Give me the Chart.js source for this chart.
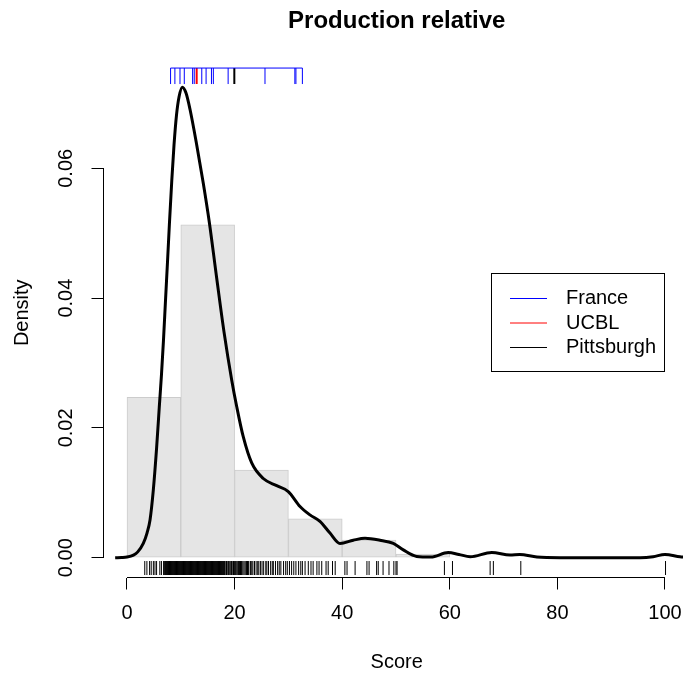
<!DOCTYPE html>
<html>
<head>
<meta charset="utf-8">
<title>Production relative</title>
<script src="https://cdn.jsdelivr.net/npm/chart.js@4.4.1/dist/chart.umd.min.js"></script>
<style>
  html, body { margin: 0; padding: 0; overflow: hidden; background: #ffffff; }
  canvas { display: block; }
</style>
</head>
<body>
<canvas id="chart" width="683" height="674"></canvas>
<script>
// ---- Histogram of scores (bins of width 10, density scale) ----
const binStarts = [0, 10, 20, 30, 40, 50];
const binDensity = [0.0247, 0.0513, 0.0135, 0.0060, 0.0027, 0.00057];
const BIN_WIDTH = 10;

// ---- Kernel density estimate of the score ----
const densityX = [-2.2, -1.0, 0.0, 1.2, 2.0, 3.03, 3.72, 4.28, 4.89, 5.52, 6.0, 6.41, 6.78, 7.16,
  7.53, 7.9, 8.33, 8.74, 9.2, 9.67, 10.28, 10.97, 11.71, 12.96, 14.18, 15.3, 16.67, 18.03, 19.46,
  20.39, 21.62, 23.18, 25.33, 27.83, 29.98, 32.16, 34.01, 35.87, 37.73, 39.59, 42.06, 44.24,
  47.03, 49.5, 51.36, 53.85, 56.5, 59.7, 61.7, 63.8, 67.8, 71.2, 73.0, 76.2, 80.5, 95.4, 97.8,
  100.0, 102.8, 104.6];
const densityY = [0.0, 0.00003, 0.0001, 0.0004, 0.0009, 0.0022, 0.0038, 0.0058, 0.0104, 0.0171,
  0.0232, 0.0282, 0.0335, 0.0397, 0.0456, 0.0517, 0.0582, 0.0636, 0.0682, 0.0710, 0.0725, 0.0716,
  0.0691, 0.0636, 0.0577, 0.0517, 0.0431, 0.0348, 0.0274, 0.0233, 0.0186, 0.0146, 0.0122, 0.0111,
  0.0102, 0.0079, 0.0066, 0.0056, 0.0038, 0.0022, 0.0027, 0.0030, 0.0027, 0.0022, 0.0012, 0.0002,
  0.0001, 0.0008, 0.0005, 0.00015, 0.0008, 0.0004, 0.0005, 0.0001, 0.0, 0.0, 0.00015, 0.0005,
  0.00015, 0.00003];

// ---- Individual scores (rug under the axis) ----
const allScores = [3.3, 3.7, 4.2, 4.5, 4.9, 5.2, 5.5, 6.1, 6.4, 6.8,
  7.0, 7.1, 7.2, 7.3, 7.4, 7.5, 7.6, 7.7, 7.8, 7.9, 8.0, 8.1, 8.2, 8.3, 8.4, 8.5, 8.6, 8.7,
  8.8, 8.9, 9.0, 9.1, 9.2, 9.3, 9.4, 9.5, 9.6, 9.7, 9.8, 9.9, 10.0, 10.1, 10.2, 10.3, 10.4,
  10.5, 10.6, 10.7, 10.8, 10.9, 11.0, 11.1, 11.2, 11.3, 11.4, 11.5, 11.6, 11.7, 11.8, 11.9,
  12.0, 12.1, 12.2, 12.3, 12.4, 12.5, 12.6, 12.7, 12.8, 12.9, 13.0, 13.1, 13.2, 13.3, 13.4,
  13.5, 13.6, 13.7, 13.8, 13.9, 14.0, 14.1, 14.2, 14.3, 14.4, 14.5, 14.6, 14.7, 14.8, 14.9,
  15.0, 15.1, 15.2, 15.3, 15.4, 15.5, 15.6, 15.7, 15.8, 15.9, 16.0, 16.1, 16.2, 16.3, 16.4,
  16.5, 16.6, 16.7, 16.8, 16.9, 17.0, 17.1, 17.2, 17.3, 17.4, 17.5, 17.6, 17.7, 17.8, 17.9,
  18.0, 18.1, 18.2, 18.4, 18.5, 18.6, 18.8, 18.9, 19.1, 19.3, 19.4, 19.5, 19.7, 19.8, 20.0,
  20.2, 20.3, 20.5, 20.7, 20.8, 20.9, 21.1, 21.3, 21.4, 21.6, 21.9, 22.1, 22.2, 22.4, 22.6,
  22.9, 23.0, 23.2, 23.4, 23.7, 24.0, 24.3, 24.5, 24.8, 25.1, 25.4, 25.8, 26.0, 26.3, 26.7,
  27.0, 27.2, 27.6, 28.0, 28.3, 28.6, 29.1, 29.5, 29.8, 30.2, 30.6, 31.0, 31.4, 31.9, 32.3,
  32.6, 33.1, 33.7, 34.2, 34.6, 35.3, 35.7, 36.2, 37.0, 37.4, 38.2, 38.7, 40.5, 40.9, 42.4,
  44.6, 45.0, 46.4, 46.7, 47.6, 48.7, 49.6, 50.0, 50.2, 59.0, 60.5, 67.5, 68.1, 73.2, 100.1];

// ---- Scores by group (rug along the top) ----
const franceScores = [8.1, 8.9, 9.85, 10.65, 12.2, 12.5, 13.9, 14.7, 15.7, 16.05, 18.8, 25.65, 31.2, 31.4, 32.6];
const ucblScores = [12.95];
const pittsburghScores = [19.95];

// ---- Axes and legend text ----
const xTickValues = [0, 20, 40, 60, 80, 100];
const xTickLabels = ['0', '20', '40', '60', '80', '100'];
const yTickValues = [0, 0.02, 0.04, 0.06];
const yTickLabels = ['0.00', '0.02', '0.04', '0.06'];
const legendLabels = ['France', 'UCBL', 'Pittsburgh'];
const legendColors = ['#0000FF', '#FF0000', '#000000'];
const chartTitle = 'Production relative';
const xTitle = 'Score';
const yTitle = 'Density';

// ---- Layout constants ----
const FONT = "'Liberation Sans', Arial, Helvetica, sans-serif";
const AREA_LEFT = 103.5, AREA_BOTTOM = 577.5, AREA_TOP = 48;
const X_MIN = -4.368, X_MAX = 103.35;      // visible part of the x range
const X_PLOT_RIGHT = 104.647;              // full plotting range (for centring titles)
const Y_MIN = -0.00305, Y_MAX = 0.07854;
const RUG_BOTTOM_LEVEL = -0.00159;   // centre of the lower rug ticks
const RUG_TOP_LEVEL = 0.07422;       // centre of the upper rug ticks
const RUG_TOP_LINE = 0.07545;        // baseline of the upper rug

const toXY = (xs, ys) => xs.map((x, i) => ({ x: x, y: ys[i] }));
const rugPoints = (vals, level) => vals.map(v => ({ x: v, y: level }));

function rugDataset(vals, level, color, width, radius) {
  return {
    type: 'scatter',
    data: rugPoints(vals, level),
    pointStyle: 'line',
    rotation: 90,
    pointRadius: radius,
    pointHoverRadius: radius,
    borderColor: color,
    backgroundColor: color,
    pointBorderColor: color,
    pointBorderWidth: width,
    borderWidth: width,
    showLine: false,
    order: 2
  };
}

// Axis lines, titles and legend drawn R-style
const decorations = {
  id: 'decorations',
  afterDraw(chart) {
    const ctx = chart.ctx;
    const a = chart.chartArea;
    const xs = chart.scales.x, ys = chart.scales.y;
    ctx.save();
    ctx.strokeStyle = '#000';
    ctx.lineWidth = 1;
    ctx.beginPath();
    ctx.moveTo(xs.getPixelForValue(xTickValues[0]), a.bottom);
    ctx.lineTo(xs.getPixelForValue(xTickValues[xTickValues.length - 1]), a.bottom);
    ctx.moveTo(a.left, ys.getPixelForValue(yTickValues[0]));
    ctx.lineTo(a.left, ys.getPixelForValue(yTickValues[yTickValues.length - 1]));
    ctx.stroke();

    const centreX = (a.left + xs.getPixelForValue(X_PLOT_RIGHT)) / 2;

    // main title
    ctx.fillStyle = '#000';
    ctx.font = 'bold 24px ' + FONT;
    ctx.textAlign = 'center';
    ctx.textBaseline = 'middle';
    ctx.fillText(chartTitle, centreX, 21);

    // x axis title
    ctx.font = '20px ' + FONT;
    ctx.fillText(xTitle, centreX, 662);

    // legend
    const box = { x: 491.5, y: 273.5, w: 173, h: 98 };
    ctx.strokeRect(box.x, box.y, box.w, box.h);
    ctx.textAlign = 'left';
    legendLabels.forEach((lab, i) => {
      const yy = 298.5 + i * 24.5;
      ctx.strokeStyle = legendColors[i];
      ctx.beginPath();
      ctx.moveTo(510, yy);
      ctx.lineTo(547, yy);
      ctx.stroke();
      ctx.fillStyle = '#000';
      ctx.fillText(lab, 566, yy);
    });
    ctx.restore();
  }
};

const noEdgePadding = s => { s.paddingLeft = 0; s.paddingRight = 0; s.paddingTop = 0; s.paddingBottom = 0; };

const ctx = document.getElementById('chart').getContext('2d');
new Chart(ctx, {
  type: 'scatter',
  data: {
    datasets: [
      {
        type: 'line',
        data: toXY(densityX, densityY),
        borderColor: '#000000',
        borderWidth: 3,
        pointRadius: 0,
        pointHoverRadius: 0,
        fill: false,
        cubicInterpolationMode: 'monotone',
        order: 1
      },
      {
        type: 'line',
        data: [
          { x: Math.min(...franceScores), y: RUG_TOP_LINE },
          { x: Math.max(...franceScores), y: RUG_TOP_LINE }
        ],
        borderColor: legendColors[0],
        borderWidth: 1,
        pointRadius: 0,
        pointHoverRadius: 0,
        fill: false,
        order: 2
      },
      rugDataset(franceScores, RUG_TOP_LEVEL, legendColors[0], 1, 8),
      rugDataset(ucblScores, RUG_TOP_LEVEL, legendColors[1], 2, 8),
      rugDataset(pittsburghScores, RUG_TOP_LEVEL, legendColors[2], 2, 8),
      rugDataset(allScores, RUG_BOTTOM_LEVEL, '#000000', 1, 7),
      {
        type: 'bar',
        data: binStarts.map((s, i) => ({ x: s + BIN_WIDTH / 2, y: binDensity[i] })),
        backgroundColor: 'rgb(229,229,229)',
        borderColor: 'rgb(204,204,204)',
        borderWidth: 1,
        borderSkipped: false,
        barPercentage: 1.0,
        categoryPercentage: 1.0,
        order: 10
      }
    ]
  },
  options: {
    responsive: false,
    animation: false,
    devicePixelRatio: 1,
    events: [],
    layout: { autoPadding: false, padding: { top: AREA_TOP, left: 0, right: 0, bottom: 0 } },
    plugins: {
      legend: { display: false },
      tooltip: { enabled: false },
      title: { display: false }
    },
    scales: {
      x: {
        type: 'linear',
        position: 'bottom',
        min: X_MIN,
        max: X_MAX,
        offset: false,
        afterBuildTicks: s => { s.ticks = xTickValues.map(v => ({ value: v })); },
        afterFit: s => { s.height = 674 - AREA_BOTTOM; noEdgePadding(s); },
        border: { display: false },
        grid: { display: true, drawOnChartArea: false, drawTicks: true, tickLength: 12, color: '#000', lineWidth: 1, offset: false },
        ticks: {
          color: '#000',
          font: { family: FONT, size: 20 },
          padding: 12,
          maxRotation: 0,
          minRotation: 0,
          autoSkip: false,
          callback: (v, i) => xTickLabels[i]
        },
        title: { display: false }
      },
      y: {
        type: 'linear',
        position: 'left',
        min: Y_MIN,
        max: Y_MAX,
        afterBuildTicks: s => { s.ticks = yTickValues.map(v => ({ value: v })); },
        afterFit: s => { s.width = AREA_LEFT; noEdgePadding(s); },
        border: { display: false },
        grid: { display: true, drawOnChartArea: false, drawTicks: true, tickLength: 12, color: '#000', lineWidth: 1 },
        ticks: {
          color: '#000',
          font: { family: FONT, size: 20 },
          padding: 6,
          minRotation: 90,
          maxRotation: 90,
          crossAlign: 'center',
          autoSkip: false,
          callback: (v, i) => yTickLabels[i]
        },
        title: {
          display: true,
          text: yTitle,
          color: '#000',
          font: { family: FONT, size: 20 },
          padding: { top: 10, bottom: 0 }
        }
      }
    }
  },
  plugins: [decorations]
});
</script>
</body>
</html>
